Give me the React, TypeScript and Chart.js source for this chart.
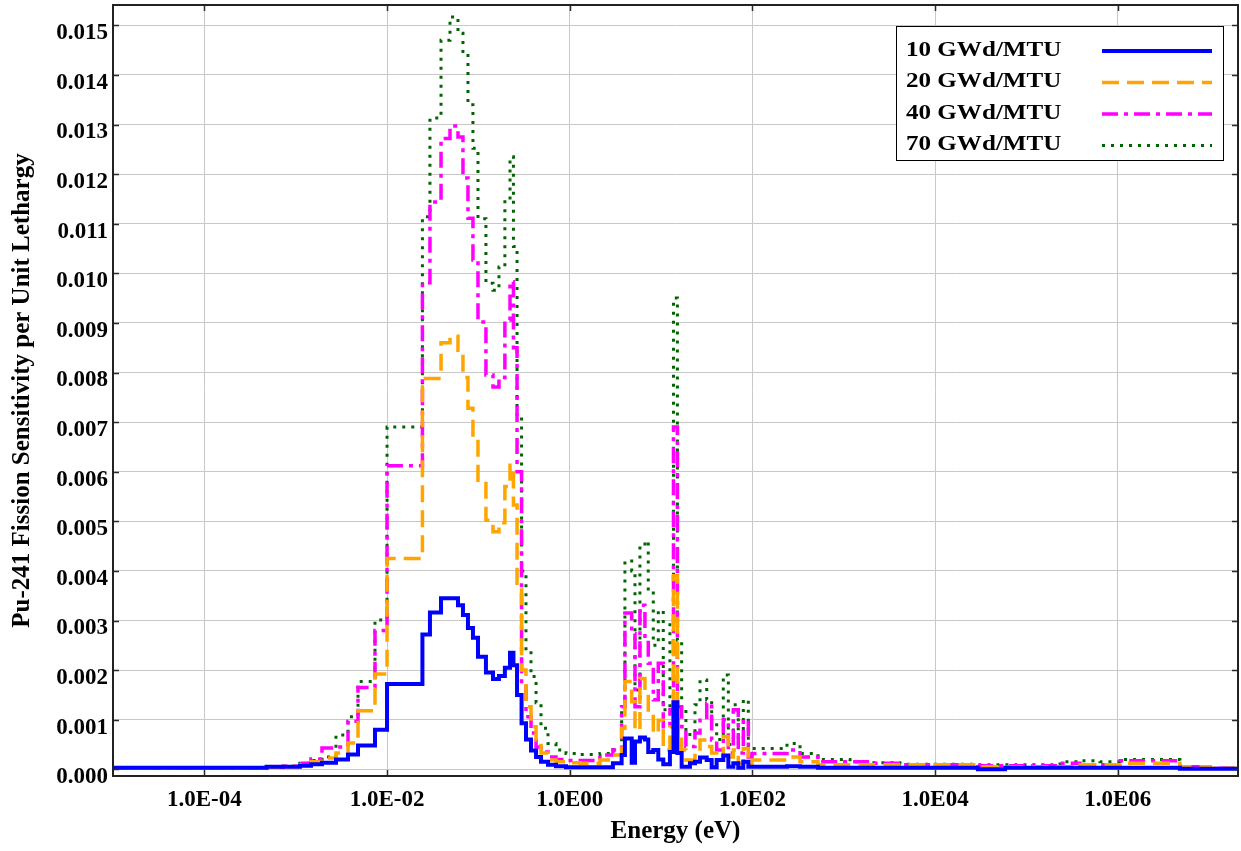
import React, { useEffect, useRef } from "react";
import { Chart, registerables } from "chart.js";

Chart.register(...registerables);

// Group boundaries (eV): each value applies from its edge up to the next edge
const energyEdges = [
  1e-5, 4.8e-4, 7.3e-4, 1.11e-3, 1.47e-3, 1.94e-3, 2.76e-3, 3.74e-3, 4.81e-3, 7.38e-3,
  1.0e-2, 2.44e-2, 2.95e-2, 3.9e-2, 4.89e-2, 5.98e-2, 6.78e-2, 7.69e-2, 8.72e-2, 9.9e-2,
  0.121, 0.1445, 0.168, 0.195, 0.222, 0.242, 0.265, 0.297, 0.332, 0.377,
  0.428, 0.485, 0.578, 0.707, 0.91, 1.295, 2.14, 2.97, 3.7, 4.02,
  4.77, 5.18, 5.87, 6.66, 7.24, 8.22, 9.32, 10.57, 12.5, 13.67,
  15.1, 16.8, 18.7, 20.7, 23.5, 26.7, 31.6, 35.8, 40.6, 48.0,
  54.5, 61.8, 70.0, 79.5, 90.2, 98.9, 239, 332, 522, 1170,
  1940, 4120, 29400, 58200, 2.33e5, 3.86e5, 6.38e5, 1.06e6, 4.79e6, 1.02e7,
  2.07e7,
];

const burnup10 = [
  0.00003, 0.00005, 0.00005, 0.00007, 0.0001, 0.00013, 0.0002, 0.0003, 0.00048, 0.0008,
  0.00172, 0.00272, 0.00316, 0.00345, 0.00345, 0.00331, 0.00311, 0.00285, 0.00265, 0.00227,
  0.00195, 0.00182, 0.00188, 0.00205, 0.00235, 0.0021, 0.0015, 0.00093, 0.0006, 0.00038,
  0.00025, 0.00015, 0.00009, 0.00006, 0.00004, 0.00004, 0.00004, 0.00012, 0.00029, 0.00062,
  0.00013, 0.00056, 0.00064, 0.0006, 0.00035, 0.00039, 0.0002, 0.0001, 0.00035, 0.00135,
  0.00033, 0.00005, 0.00005, 0.00012, 0.00015, 0.00024, 0.00019, 0.00004, 0.00019, 0.00028,
  0.00005, 0.00012, 0.00003, 0.00015, 0.00005, 0.00005, 0.00006, 0.00005, 0.00003, 0.00003,
  0.00003, 0.00003, 0.0, 0.00003, 0.00003, 0.00003, 0.00003, 0.00003, 0.00001, 0.00001,
  0.00001,
];

const burnup20 = [
  0.00003, 0.00004, 0.00005, 0.00009, 0.00015, 0.00023, 0.00033, 0.00053, 0.00118, 0.00192,
  0.00425, 0.00788, 0.00788, 0.0086, 0.00873, 0.00845, 0.0079, 0.00728, 0.0067, 0.00583,
  0.00502, 0.00479, 0.00497, 0.0057, 0.00613, 0.00533, 0.00375, 0.002, 0.00126, 0.00086,
  0.00059, 0.00033, 0.00019, 0.00015, 0.00013, 0.00012, 0.00019, 0.00029, 0.00083, 0.00177,
  0.00136, 0.00079, 0.00183, 0.00153, 0.00113, 0.00073, 0.00099, 0.00039, 0.00086, 0.0039,
  0.00073, 0.00039, 0.00019, 0.00019, 0.00035, 0.00059, 0.00046, 0.00033, 0.00019, 0.00066,
  0.00025, 0.00039, 0.00012, 0.00042, 0.00009, 0.00019, 0.00025, 0.00015, 0.00009, 0.00009,
  0.00009, 0.00009, 0.00005, 0.00005, 0.00005, 0.00009, 0.00009, 0.00012, 0.00005, 0.00002,
  0.00002,
];

const burnup40 = [
  0.00003, 0.00004, 0.00006, 0.00012, 0.00021, 0.00043, 0.00045, 0.00097, 0.00165, 0.0028,
  0.00612, 0.00981, 0.01144, 0.01272, 0.01297, 0.01275, 0.01192, 0.01111, 0.01027, 0.00902,
  0.00795, 0.00771, 0.0079, 0.00906, 0.00983, 0.0085, 0.006, 0.00167, 0.00106, 0.00073,
  0.00045, 0.00035, 0.00025, 0.0002, 0.00018, 0.00018, 0.00029, 0.00039, 0.00126, 0.00315,
  0.00274, 0.00126, 0.00331, 0.0026, 0.00214, 0.0014, 0.00214, 0.00086, 0.0012, 0.0069,
  0.00126, 0.00086, 0.00046, 0.00046, 0.00073, 0.00099, 0.00133, 0.00059, 0.00039, 0.001,
  0.00033, 0.0012, 0.00033, 0.001, 0.00025, 0.00032, 0.00039, 0.00025, 0.00015, 0.00015,
  0.00012, 0.00009, 0.00007, 0.00007, 0.00012, 0.00009, 0.00009, 0.00017, 0.00005, 0.00002,
  0.00002,
];

const burnup70 = [
  0.00003, 0.00004, 0.00006, 0.00012, 0.00018, 0.00025, 0.00069, 0.00106, 0.00177, 0.00301,
  0.0069, 0.01114, 0.01313, 0.0147, 0.01517, 0.01484, 0.01447, 0.0134, 0.01252, 0.0111,
  0.0098, 0.00966, 0.01013, 0.01148, 0.01235, 0.01054, 0.00711, 0.004, 0.0024, 0.00187,
  0.00134, 0.00083, 0.00052, 0.00039, 0.00032, 0.0003, 0.00032, 0.0004, 0.0012, 0.0042,
  0.004, 0.0016, 0.0045, 0.0046, 0.0036, 0.0025, 0.0032, 0.0012, 0.003, 0.0095,
  0.0026, 0.0012, 0.0007, 0.0007, 0.0013, 0.0018, 0.0014, 0.0009, 0.0006, 0.0019,
  0.0005, 0.0013, 0.0006, 0.0014, 0.0004, 0.00042, 0.00052, 0.00032, 0.0002, 0.00015,
  0.00013, 0.0001, 0.00009, 0.00009, 0.00015, 0.00017, 0.00015, 0.0002, 0.00005, 0.00002,
  0.00002,
];

const seriesLabels = ["10 GWd/MTU", "20 GWd/MTU", "40 GWd/MTU", "70 GWd/MTU"];
const seriesColors = ["#0000ff", "#ffa500", "#ff00ff", "#006400"];

const xTickValues = [1e-4, 1e-2, 1, 1e2, 1e4, 1e6];
const xTickLabels = ["1.0E-04", "1.0E-02", "1.0E00", "1.0E02", "1.0E04", "1.0E06"];
const yTickValues = [
  0, 0.001, 0.002, 0.003, 0.004, 0.005, 0.006, 0.007, 0.008,
  0.009, 0.01, 0.011, 0.012, 0.013, 0.014, 0.015,
];

const X_MIN = 1e-5;
const X_MAX = 2.07e7;
const Y_MIN = -0.000135;
const Y_MAX = 0.01541;

const FONT_FAMILY = "'Liberation Serif', 'Times New Roman', serif";

const toPoints = (vals: number[]) => energyEdges.map((e, i) => ({ x: e, y: vals[i] }));

const frameAndTicksPlugin = {
  id: "frameAndTicks",
  afterDatasetsDraw(chart: any) {
    const { ctx, chartArea: ca, scales } = chart;
    ctx.save();
    ctx.strokeStyle = "#2a2a2a";
    ctx.lineWidth = 1.5;
    const tl = 6;
    ctx.beginPath();
    for (const v of yTickValues) {
      const py = Math.round(scales.y.getPixelForValue(v)) + 0.5;
      ctx.moveTo(ca.left, py);
      ctx.lineTo(ca.left + tl, py);
      ctx.moveTo(ca.right - tl, py);
      ctx.lineTo(ca.right, py);
    }
    for (const v of xTickValues) {
      const px = Math.round(scales.x.getPixelForValue(v)) + 0.5;
      ctx.moveTo(px, ca.bottom);
      ctx.lineTo(px, ca.bottom - tl);
      ctx.moveTo(px, ca.top);
      ctx.lineTo(px, ca.top + tl);
    }
    ctx.stroke();
    ctx.lineWidth = 2;
    ctx.strokeStyle = "#222";
    ctx.strokeRect(ca.left, ca.top, ca.right - ca.left, ca.bottom - ca.top);
    ctx.restore();
  },
};

const boxLegendPlugin = {
  id: "boxLegend",
  afterDraw(chart: any) {
    const { ctx, chartArea: ca } = chart;
    const boxW = 327;
    const boxH = 134;
    const boxRight = ca.right - 15;
    const boxLeft = boxRight - boxW;
    const boxTop = ca.top + 21;
    ctx.save();
    ctx.fillStyle = "#ffffff";
    ctx.fillRect(boxLeft, boxTop, boxW, boxH);
    ctx.strokeStyle = "#000";
    ctx.lineWidth = 1;
    ctx.strokeRect(boxLeft + 0.5, boxTop + 0.5, boxW, boxH);
    ctx.textBaseline = "middle";
    ctx.textAlign = "left";
    chart.data.datasets.forEach((ds: any, i: number) => {
      const y = boxTop + 24 + i * 31.5;
      ctx.save();
      ctx.translate(boxLeft + 10, y);
      ctx.scale(1.14, 1);
      ctx.font = `bold 22px ${FONT_FAMILY}`;
      ctx.fillStyle = "#000";
      ctx.fillText(ds.label, 0, 0);
      ctx.restore();
      ctx.beginPath();
      ctx.setLineDash(ds.borderDash || []);
      ctx.lineWidth = ds.borderWidth;
      ctx.strokeStyle = ds.borderColor;
      ctx.moveTo(boxLeft + 206, y + 1);
      ctx.lineTo(boxLeft + 316, y + 1);
      ctx.stroke();
    });
    ctx.restore();
  },
};

export default function App() {
  const canvasRef = useRef<HTMLCanvasElement | null>(null);

  useEffect(() => {
    document.body.style.margin = "0";
    document.body.style.overflow = "hidden";
    const canvas = canvasRef.current;
    if (!canvas) return;

    const tickFont = { family: FONT_FAMILY, size: 23, weight: "bold" as const };
    const titleFont = { family: FONT_FAMILY, size: 25, weight: "bold" as const };

    const chart = new Chart(canvas, {
      type: "line",
      data: {
        datasets: [
          {
            label: seriesLabels[0],
            data: toPoints(burnup10),
            borderColor: seriesColors[0],
            borderWidth: 4,
            borderDash: [],
            stepped: true,
            pointRadius: 0,
            fill: false,
          },
          {
            label: seriesLabels[1],
            data: toPoints(burnup20),
            borderColor: seriesColors[1],
            borderWidth: 3.5,
            borderDash: [17, 8],
            stepped: true,
            pointRadius: 0,
            fill: false,
          },
          {
            label: seriesLabels[2],
            data: toPoints(burnup40),
            borderColor: seriesColors[2],
            borderWidth: 3.5,
            borderDash: [16, 6, 4, 6],
            stepped: true,
            pointRadius: 0,
            fill: false,
          },
          {
            label: seriesLabels[3],
            data: toPoints(burnup70),
            borderColor: seriesColors[3],
            borderWidth: 3,
            borderDash: [3, 6],
            stepped: true,
            pointRadius: 0,
            fill: false,
          },
        ],
      },
      options: {
        animation: false,
        responsive: false,
        maintainAspectRatio: false,
        layout: { padding: { top: 5, right: 3, left: 0, bottom: 0 } },
        plugins: {
          legend: { display: false },
          tooltip: { enabled: false },
        },
        scales: {
          x: {
            type: "logarithmic",
            min: X_MIN,
            max: X_MAX,
            afterBuildTicks: (scale: any) => {
              scale.ticks = xTickValues.map((v) => ({ value: v }));
            },
            afterFit: (scale: any) => {
              scale.height = 75;
              scale.paddingLeft = 0;
              scale.paddingRight = 0;
            },
            ticks: {
              autoSkip: false,
              maxRotation: 0,
              padding: 10,
              color: "#000",
              font: tickFont,
              callback: (_v: any, i: number) => xTickLabels[i],
            },
            grid: { color: "#c8c8c8", lineWidth: 1, drawTicks: false },
            border: { display: false },
            title: {
              display: true,
              text: "Energy (eV)",
              color: "#000",
              font: titleFont,
              padding: { top: 0, bottom: 4 },
            },
          },
          y: {
            type: "linear",
            min: Y_MIN,
            max: Y_MAX,
            afterBuildTicks: (scale: any) => {
              scale.ticks = yTickValues.map((v) => ({ value: v }));
            },
            afterFit: (scale: any) => {
              scale.width = 113;
              scale.paddingTop = 0;
              scale.paddingBottom = 0;
            },
            ticks: {
              autoSkip: false,
              padding: 5,
              labelOffset: 8,
              color: "#000",
              font: tickFont,
              callback: (v: any) => Number(v).toFixed(3),
            },
            grid: { color: "#c8c8c8", lineWidth: 1, drawTicks: false },
            border: { display: false },
            title: {
              display: true,
              text: "Pu-241 Fission Sensitivity per Unit Lethargy",
              color: "#000",
              font: titleFont,
              padding: { top: 8, bottom: 0 },
            },
          },
        },
      },
      plugins: [frameAndTicksPlugin, boxLegendPlugin],
    } as any);

    return () => {
      chart.destroy();
    };
  }, []);

  return (
    <div style={{ position: "absolute", left: 0, top: 0, width: 1241, height: 851 }}>
      <canvas ref={canvasRef} width={1241} height={851} />
    </div>
  );
}
